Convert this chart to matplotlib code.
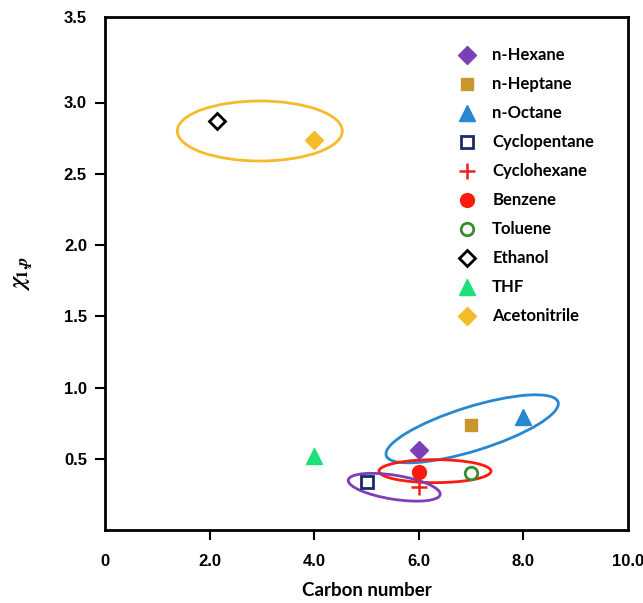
import matplotlib
matplotlib.use("Agg")
import matplotlib.pyplot as plt
from matplotlib.patches import Ellipse
from matplotlib.transforms import ScaledTranslation

plt.rcParams["font.family"] = ["Liberation Sans", "DejaVu Sans"]
plt.rcParams["font.weight"] = "bold"
plt.rcParams["mathtext.fontset"] = "stix"

# ---- data ----
solvents = ["n-Hexane", "n-Heptane", "n-Octane", "Cyclopentane", "Cyclohexane",
            "Benzene", "Toluene", "Ethanol", "THF", "Acetonitrile"]
carbon = [6.0, 7.0, 8.0, 5.0, 6.0, 6.0, 7.0, 2.15, 4.0, 4.0]
chi = [0.56, 0.74, 0.79, 0.34, 0.30, 0.41, 0.40, 2.87, 0.52, 2.74]
markers = ["D", "s", "^", "s", "+", "o", "o", "D", "^", "D"]
colors = ["#7B3FB8", "#C9962A", "#2787D0", "#1B2A6B", "#E8231F",
          "#FF1A0E", "#3A8A2E", "#000000", "#1EE07A", "#F6BA2A"]
filled = [True, True, True, False, True, True, False, False, True, True]
msizes = [9, 9, 11, 9, 12, 10, 9, 8, 11, 9]

xticks = [0, 2, 4, 6, 8, 10]
xticklabels = ["0", "2.0", "4.0", "6.0", "8.0", "10.0"]
yticks = [0.5, 1.0, 1.5, 2.0, 2.5, 3.0, 3.6]
yticklabels = ["0.5", "1.0", "1.5", "2.0", "2.5", "3.0", "3.5"]

# group ellipses: center (data), semi-axes (px), angle (deg, display), colour
ell_centers = [(2.96, 2.80), (7.02, 0.71), (6.31, 0.413), (5.53, 0.30)]
ell_semi = [(82.5, 30), (90, 22), (56, 11.5), (46.5, 12)]
ell_angle = [0, 17.3, 0, -9]
ell_colors = ["#F6BA2A", "#2787D0", "#FF1A0E", "#7B3FB8"]

fig = plt.figure(figsize=(6.43, 6.03), dpi=100)
ax = fig.add_axes([105 / 643, 73 / 603, 523 / 643, 513 / 603])

for i, name in enumerate(solvents):
    if markers[i] == "+":
        ax.plot(carbon[i], chi[i], marker="+", ms=msizes[i], mew=1.8,
                color=colors[i], ls="none", label=name)
    elif filled[i]:
        ax.plot(carbon[i], chi[i], marker=markers[i], ms=msizes[i],
                color=colors[i], mec=colors[i], ls="none", label=name)
    else:
        ax.plot(carbon[i], chi[i], marker=markers[i], ms=msizes[i],
                mfc="white", mec=colors[i], mew=2, ls="none", label=name)

for c, (a, b), ang, col in zip(ell_centers, ell_semi, ell_angle, ell_colors):
    tr = fig.dpi_scale_trans + ScaledTranslation(c[0], c[1], ax.transData)
    e = Ellipse((0, 0), 2 * a / 100, 2 * b / 100, angle=ang, transform=tr,
                fill=False, ec=col, lw=2)
    ax.add_patch(e)

ax.set_xlim(0, 10)
ax.set_ylim(0, 3.6)
ax.set_xticks(xticks)
ax.set_xticklabels(xticklabels, fontsize=12, fontweight="bold")
ax.set_yticks(yticks)
ax.set_yticklabels(yticklabels, fontsize=12, fontweight="bold")
ax.yaxis.get_major_ticks()[-1].tick1line.set_visible(False)
ax.xaxis.get_major_ticks()[0].tick1line.set_visible(False)
ax.xaxis.get_major_ticks()[-1].tick1line.set_visible(False)

ax.tick_params(axis="both", direction="out", length=7, width=1.5, pad=6)
ax.tick_params(axis="x", pad=10)
for s in ax.spines.values():
    s.set_linewidth(2)

ax.set_xlabel("Carbon number", fontfamily="Lato", fontweight="bold",
              fontsize=13.5, labelpad=10)
ax.set_ylabel(r"$\chi_{1{,}p}$", fontsize=17, fontweight="normal")
ax.yaxis.set_label_coords(-0.134, 0.5)

leg = ax.legend(loc="upper left", bbox_to_anchor=(0.64, 0.97), frameon=False,
                prop={"family": "Lato", "weight": "bold", "size": 12},
                labelspacing=0.78, handletextpad=0.75, numpoints=1,
                handlelength=1.5)

fig.savefig("out.png", dpi=100)
